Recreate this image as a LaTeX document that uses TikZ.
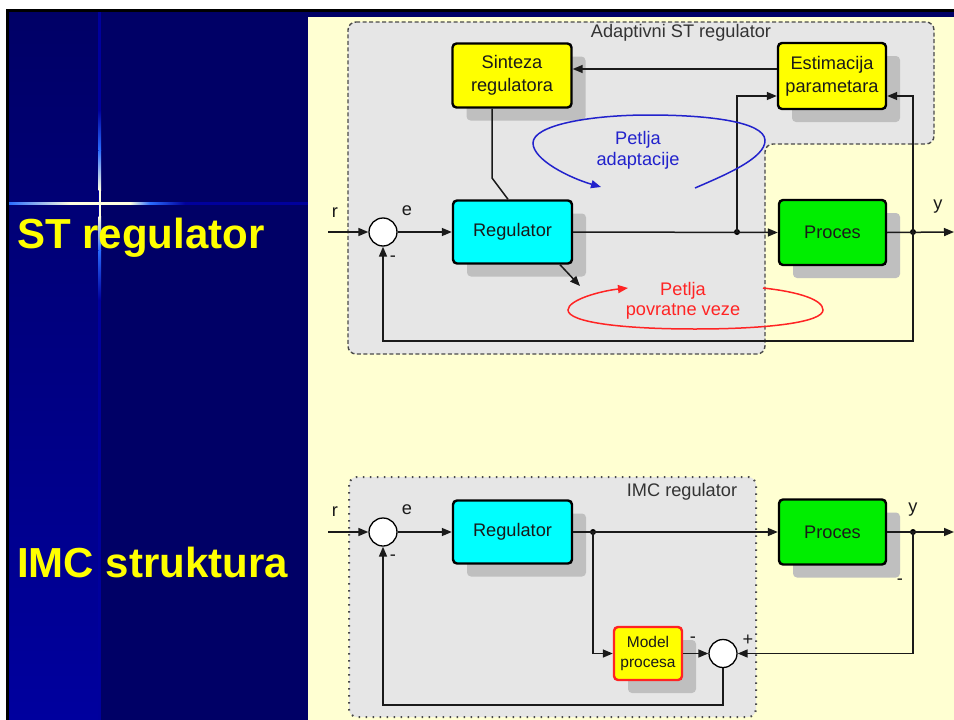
\documentclass[tikz,border=0pt]{standalone}
\usepackage{fontspec}
\setmainfont{Liberation Sans}
\usetikzlibrary{arrows.meta,shadows}

\definecolor{navy}{HTML}{000066}
\definecolor{navylight}{HTML}{00009E}
\definecolor{navyline}{HTML}{00009C}
\definecolor{panel}{HTML}{FFFFD2}
\definecolor{boxgray}{HTML}{E6E6E6}
\definecolor{framegray}{HTML}{4A4A4A}
\definecolor{ylw}{HTML}{FFFF00}
\definecolor{cyanbox}{HTML}{00FFFF}
\definecolor{greenbox}{HTML}{00EE00}
\definecolor{loopblue}{HTML}{2222CC}
\definecolor{loopred}{HTML}{FF2424}
\definecolor{ink}{HTML}{1A1A1A}
\definecolor{glowblue}{HTML}{2A6CFF}
\definecolor{glowcore}{HTML}{FFFFE0}
\definecolor{headline}{HTML}{FFFF00}

\tikzset{
  lbl/.style={font=\fontsize{18.2}{22}\selectfont, text=ink, inner sep=0pt},
  boxtext/.style={font=\fontsize{18.2}{23}\selectfont, text=ink, align=center},
  blockbox/.style={draw=black, line width=2.4pt, rounded corners=4pt, inner sep=0pt,
    drop shadow={shadow xshift=14pt, shadow yshift=-13pt, fill=black!25, opacity=1}},
  sumnode/.style={circle, draw=black, fill=white, line width=1.3pt, minimum size=28pt, inner sep=0pt},
  sig/.style={line width=1.5pt, draw=ink},
  arr/.style={sig, -{Triangle[length=10pt,width=8pt]}},
  junction/.style={circle, fill=black, inner sep=0pt, minimum size=6pt},
  heading/.style={font=\fontsize{42}{50}\selectfont\bfseries, text=headline, inner sep=0pt, anchor=base west},
  dashframe/.style={draw=framegray, fill=boxgray, line width=1.4pt, dash pattern=on 4pt off 2.5pt, rounded corners=8pt},
  dotframe/.style={draw=framegray, fill=boxgray, line width=2pt, dash pattern=on 1.6pt off 5.4pt, rounded corners=8pt},
  looptext/.style={font=\fontsize{18.2}{21.5}\selectfont, inner sep=0pt}
}

\begin{document}
\begin{tikzpicture}[x=1pt,y=-1pt]
\useasboundingbox (0,0) rectangle (954,720);

% slide background
\fill[white] (0,0) rectangle (954,720);
\fill[black] (6,9) rectangle (954,720);
\fill[navy] (9,12) rectangle (954,720);
\shade[top color=navy, bottom color=navylight] (9,12) rectangle (98,720);
\fill[navyline] (98,12) rectangle (101,720);
\fill[navyline] (9,202) rectangle (308,204.5);
% glowing cross
\shade[left color=glowblue, right color=glowcore] (9,202) rectangle (70,204.5);
\fill[glowcore] (70,202) rectangle (130,204.5);
\shade[left color=glowcore, right color=glowblue] (130,202) rectangle (150,204.5);
\shade[left color=glowblue, right color=navyline] (150,202) rectangle (185,204.5);
\shade[top color=navyline, bottom color=glowblue] (98.5,110) rectangle (101,150);
\shade[top color=glowblue, bottom color=glowcore] (98.5,150) rectangle (101,190);
\fill[glowcore] (98.5,190) rectangle (101,216);
\shade[top color=glowcore, bottom color=glowblue] (98.5,216) rectangle (101,250);
\shade[top color=glowblue, bottom color=navyline] (98.5,250) rectangle (101,300);

% diagram panel
\fill[panel] (308,17) rectangle (954,720);

% headings
\node[heading] (h1) at (17,248) {ST regulator};
\node[heading] (h2) at (17,577) {IMC struktura};

% ---------- self-tuning regulator ----------
\path[dashframe] (348,22) -- (934,22) -- (934,144) -- (765,144) -- (765,354) -- (348,354) -- cycle;
\node[lbl, text=black!80] (t1) at (681,33) {Adaptivni ST regulator};

\node[blockbox, fill=ylw, minimum width=119pt, minimum height=64pt] (sin) at (512,75.5) {};
\node[boxtext] at (sin.center) {Sinteza\\regulatora};
\node[blockbox, fill=ylw, minimum width=108pt, minimum height=66pt] (est) at (832,76) {};
\node[boxtext] at (est.center) {Estimacija\\parametara};
\node[blockbox, fill=cyanbox, minimum width=119pt, minimum height=63pt] (reg) at (512.5,232) {};
\node[boxtext] at (reg.center) {Regulator};
\node[blockbox, fill=greenbox, minimum width=107pt, minimum height=65pt] (proc) at (832.5,232.5) {};
\node[boxtext] at (proc.center) {Proces};

\node[sumnode] (s1) at (383,232) {};
\coordinate (rin) at (328,232);
\coordinate (yout) at (954,232);
\node[junction] (d1) at (737,232) {};
\node[junction] (d2) at (913,232) {};

\draw[arr] (rin) -- (s1.west);
\draw[arr] (s1.east) -- (reg.west);
\draw[arr] (reg.east) -- (proc.west);
\draw[arr] (proc.east) -- (yout);
\draw[arr] (d1.center) |- (est.west |- 0,96);
\draw[arr] (d2.center) |- (est.east |- 0,96);
\draw[arr] (d2.center) -- (913,341) -| (s1.south);
\draw[arr] (est.west |- 0,69) -- (sin.east |- 0,69);
\draw[sig] (sin.south -| 492,0) -- (492,178) -- (reg.north -| 508,0);
\coordinate (tune) at (580,286);
\draw[arr] (reg.south -| 560,0) -- (tune);

\node[lbl] (r1) at (335,213) {r};
\node[lbl] (e1) at (407,211) {e};
\node[lbl] (m1) at (393,259) {-};
\node[lbl] (y1) at (938,207) {y};

% adaptation loop
\draw[loopblue, line width=1.5pt, -{Triangle[length=10pt,width=8pt]}]
  (695,188) .. controls (725,175) and (766,158) .. (765,140)
  .. controls (764,122) and (710,115) .. (649,115)
  .. controls (590,115) and (533,125) .. (533,143)
  .. controls (533,160) and (570,178) .. (601,187);
\node[looptext, text=loopblue, align=center] (la) at (638,150.5) {Petlja\\[-1pt]adaptacije};

% feedback loop
\draw[loopred, line width=1.5pt, -{Triangle[length=10pt,width=8pt]}]
  (763,288) .. controls (800,292) and (823,300) .. (823,310)
  .. controls (823,322) and (770,329) .. (695,329)
  .. controls (620,329) and (568,322) .. (568,310)
  .. controls (568,300) and (600,291) .. (628,288);
\node[looptext, text=loopred, align=center] (lf) at (683,301) {Petlja\\[-1pt]povratne veze};

% ---------- IMC structure ----------
\path[dotframe] (349,477) rectangle (756,717);
\node[lbl, text=black!80] (t2) at (682,492) {IMC regulator};

\node[blockbox, fill=cyanbox, minimum width=119pt, minimum height=63pt] (reg2) at (512.5,532) {};
\node[boxtext] at (reg2.center) {Regulator};
\node[blockbox, fill=greenbox, minimum width=107pt, minimum height=65pt] (proc2) at (832.5,532) {};
\node[boxtext] at (proc2.center) {Proces};
\node[blockbox, draw=loopred, fill=ylw, minimum width=68pt, minimum height=53pt] (model) at (648,653.5) {};
\node[boxtext, font=\fontsize{15.5}{19.5}\selectfont] at (model.center) {Model\\procesa};

\node[sumnode] (s2) at (383,532) {};
\node[sumnode] (s3) at (723,653.5) {};
\coordinate (rin2) at (328,532);
\coordinate (yout2) at (954,532);
\node[junction] (d3) at (593,532) {};
\node[junction] (d4) at (913,532) {};

\draw[arr] (rin2) -- (s2.west);
\draw[arr] (s2.east) -- (reg2.west);
\draw[arr] (reg2.east) -- (proc2.west);
\draw[arr] (proc2.east) -- (yout2);
\draw[arr] (d3.center) |- (model.west);
\draw[arr] (model.east) -- (s3.west);
\draw[arr] (d4.center) |- (s3.east);
\draw[arr] (s3.south) -- (723,705) -| (s2.south);

\node[lbl] (r2) at (335,512) {r};
\node[lbl] (e2) at (407,510) {e};
\node[lbl] (m2) at (393,558) {-};
\node[lbl] (y2) at (913,510) {y};
\node[lbl] (m3) at (900,582) {-};
\node[lbl] (p3) at (748,640) {+};
\node[lbl] (m4) at (693,640) {-};
\end{tikzpicture}
\end{document}
